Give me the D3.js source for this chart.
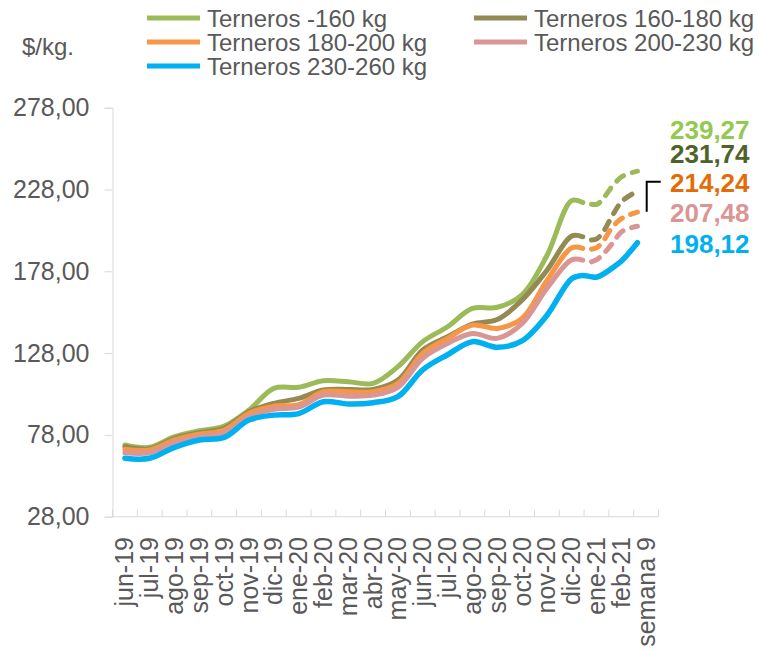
<!DOCTYPE html>
<html>
<head>
<meta charset="utf-8">
<script src="https://cdn.jsdelivr.net/npm/d3@7"></script>
<style>
  body { margin: 0; background: #fff; }
  text { font-family: "Liberation Sans", Arial, sans-serif; }
</style>
</head>
<body>
<div id="chart"></div>
<script>
var width = 759,
    height = 650;

// category labels on the x axis
var months = ["jun-19", "jul-19", "ago-19", "sep-19", "oct-19", "nov-19", "dic-19",
  "ene-20", "feb-20", "mar-20", "abr-20", "may-20", "jun-20", "jul-20", "ago-20",
  "sep-20", "oct-20", "nov-20", "dic-20", "ene-21", "feb-21", "semana 9"];

var yTicks = [28, 78, 128, 178, 228, 278];

var seriesNames = ["Terneros -160 kg", "Terneros 160-180 kg", "Terneros 180-200 kg",
  "Terneros 200-230 kg", "Terneros 230-260 kg"];
var lineColours = ["#9BBB59", "#948A54", "#F79646", "#DA9694", "#00B0F0"];
var labelColours = ["#92C950", "#4F6228", "#E36C09", "#DA9694", "#00B0F0"];
var endLabels = ["239,27", "231,74", "214,24", "207,48", "198,12"];

// position of each observation, in months from jun-19
var solidX = [0, 1, 2, 3, 4, 5, 6, 7, 8, 9, 10, 11, 12, 13, 14, 15, 16, 17, 18, 18.45];
var dashX = [18.8, 19.03, 19.3, 19.64, 20.04, 20.65];

// $/kg.
var menos160 = [71.8, 70.4, 76.9, 80.5, 83.4, 93.2, 106.4, 107.1, 111.1, 110.5, 109.5, 119.7,
  135.0, 144.1, 155.3, 156.0, 163.6, 187.5, 221.2, 220.0];
var menos160Sem = [219.0, 219.0, 223.0, 230.0, 236.0, 239.2];

var t160180 = [70.8, 69.5, 75.9, 79.3, 82.2, 92.2, 97.3, 100.3, 105.4, 105.8, 105.8, 111.5,
  129.9, 138.0, 145.7, 148.5, 160.4, 178.5, 199.5, 199.1];
var t160180Sem = [197.1, 198.0, 202.8, 212.0, 221.0, 227.0];

var t180200 = [69.2, 68.8, 74.9, 78.5, 81.0, 91.2, 95.6, 96.5, 104.4, 104.4, 104.4, 109.5,
  127.8, 137.0, 145.1, 143.1, 149.2, 172.2, 192.3, 192.0];
var t180200Sem = [191.5, 192.6, 197.1, 205.0, 210.5, 214.2];

var t200230 = [67.1, 67.1, 73.2, 76.9, 79.3, 89.1, 93.6, 95.0, 102.3, 101.7, 102.3, 107.1,
  124.8, 133.9, 140.0, 137.0, 146.0, 167.5, 185.0, 184.8];
var t200230Sem = [183.8, 185.3, 188.9, 195.0, 202.5, 205.5];

var t230260 = [63.7, 63.7, 70.4, 74.9, 76.5, 87.1, 90.1, 91.0, 98.3, 96.9, 97.7, 101.4,
  117.8, 127.0, 135.0, 131.5, 135.5, 151.0, 173.5, 175.5];
var t230260Sem = [174.6, 174.5, 176.5, 180.0, 184.8, 195.5];

var solidValues = [menos160, t160180, t180200, t200230, t230260];
var dashValues = [menos160Sem, t160180Sem, t180200Sem, t200230Sem, t230260Sem];

var svg = d3.select("#chart").append("svg")
    .attr("width", width)
    .attr("height", height);

var x = d3.scaleLinear()
  .domain([-0.5, months.length - 0.5])
  .range([112.5, 658.5]);

var y = d3.scaleLinear()
  .domain([28, 278])
  .range([516.7, 107.7]);

// y axis
var yAxis = svg.append("g")
  .attr("transform", "translate(112.5,0)")
  .call(d3.axisLeft(y).tickValues(yTicks).tickSize(8).tickPadding(15)
    .tickFormat(function(d) { return d3.format(".2f")(d).replace(".", ","); }));
yAxis.select(".domain").attr("stroke", "#D9D9D9");
yAxis.selectAll(".tick line").attr("stroke", "#D9D9D9");
yAxis.selectAll(".tick text")
  .attr("fill", "#595959")
  .style("font-size", "25px")
  .style("font-family", "'Liberation Sans', Arial, sans-serif");

// x axis: ticks between categories, pointing up
svg.append("line")
  .attr("x1", x(-0.5)).attr("x2", x(months.length - 0.5))
  .attr("y1", y(28)).attr("y2", y(28))
  .attr("stroke", "#D9D9D9");

svg.selectAll(".xtick")
  .data(d3.range(months.length + 1))
  .enter().append("line")
  .attr("class", "xtick")
  .attr("x1", function(d) { return x(d - 0.5); })
  .attr("x2", function(d) { return x(d - 0.5); })
  .attr("y1", y(28)).attr("y2", y(28) - 7)
  .attr("stroke", "#D9D9D9");

svg.selectAll(".xlabel")
  .data(months)
  .enter().append("text")
  .attr("class", "xlabel")
  .attr("transform", function(d, i) { return "translate(" + (x(i) + 8.5) + ",537) rotate(-90)"; })
  .attr("text-anchor", "end")
  .attr("fill", "#595959")
  .style("font-size", "25px")
  .text(function(d) { return d; });

var line = d3.line()
  .x(function(d) { return x(d[0]); })
  .y(function(d) { return y(d[1]); })
  .curve(d3.curveCatmullRom.alpha(0.5));

seriesNames.forEach(function(name, i) {
  var solid = d3.zip(solidX, solidValues[i]);
  var dashed = d3.zip(dashX, dashValues[i]);
  if (i === 4) {
    // the heaviest category stays solid to the end
    svg.append("path")
      .datum(solid.concat(dashed))
      .attr("d", line)
      .attr("fill", "none")
      .attr("stroke", lineColours[i])
      .attr("stroke-width", 5.5)
      .attr("stroke-linecap", "round");
  } else {
    svg.append("path")
      .datum(solid)
      .attr("d", line)
      .attr("fill", "none")
      .attr("stroke", lineColours[i])
      .attr("stroke-width", 5)
      .attr("stroke-linecap", "round");
    svg.append("path")
      .datum(dashed)
      .attr("d", line)
      .attr("fill", "none")
      .attr("stroke", lineColours[i])
      .attr("stroke-width", 5)
      .attr("stroke-linecap", "round")
      .attr("stroke-dasharray", "9,9");
  }
});

// leader mark next to the last values
svg.append("path")
  .attr("d", "M646.7,211.7V181.7H660.7")
  .attr("fill", "none")
  .attr("stroke", "#000")
  .attr("stroke-width", 2);

var labelY = [139.3, 162.7, 191.7, 221.7, 252.7];
svg.selectAll(".endlabel")
  .data(endLabels)
  .enter().append("text")
  .attr("class", "endlabel")
  .attr("x", 670)
  .attr("y", function(d, i) { return labelY[i]; })
  .attr("fill", function(d, i) { return labelColours[i]; })
  .style("font-size", "26px")
  .style("font-weight", "bold")
  .text(function(d) { return d; });

// unit
svg.append("text")
  .attr("x", 22)
  .attr("y", 55)
  .attr("fill", "#595959")
  .style("font-size", "24px")
  .text("$/kg.");

// legend, two columns
var legendPos = [[147, 18], [474, 18], [147, 42], [474, 42], [147, 66]];
var legend = svg.selectAll(".legend")
  .data(seriesNames)
  .enter().append("g")
  .attr("class", "legend")
  .attr("transform", function(d, i) { return "translate(" + legendPos[i][0] + "," + legendPos[i][1] + ")"; });

legend.append("line")
  .attr("x1", 0).attr("x2", 53)
  .attr("stroke", function(d, i) { return lineColours[i]; })
  .attr("stroke-width", 5);

legend.append("text")
  .attr("x", 60)
  .attr("y", 8.5)
  .attr("fill", "#595959")
  .style("font-size", "24px")
  .text(function(d) { return d; });
</script>
</body>
</html>
